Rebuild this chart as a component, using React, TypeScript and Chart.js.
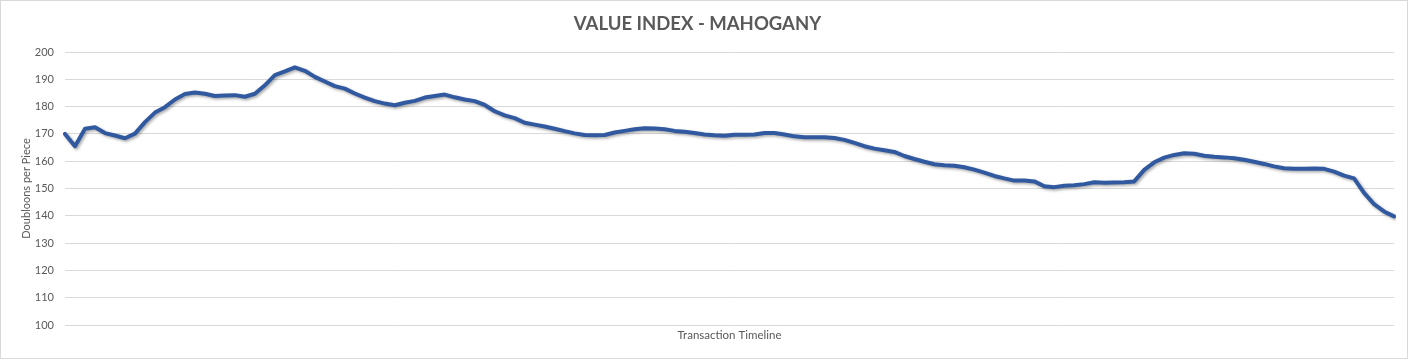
import React, { useEffect, useRef } from "react";
import { Chart, registerables } from "chart.js";

Chart.register(...registerables);

const chartTitle = "VALUE INDEX - MAHOGANY";
const yAxisTitle = "Doubloons per Piece";
const xAxisTitle = "Transaction Timeline";

const yMin = 100;
const yMax = 200;
const yStep = 10;

const mahoganyValues: number[] = [
  170.0, 165.5, 171.9, 172.4, 170.3, 169.4, 168.4, 170.1, 174.3, 177.8,
  179.8, 182.6, 184.6, 185.2, 184.7, 183.9, 184.1, 184.2, 183.6, 184.7,
  187.8, 191.5, 192.9, 194.4, 193.1, 190.9, 189.2, 187.5, 186.6, 184.8,
  183.3, 182.0, 181.1, 180.5, 181.4, 182.1, 183.3, 183.9, 184.4, 183.4,
  182.6, 182.0, 180.6, 178.3, 176.8, 175.8, 174.1, 173.4, 172.7, 171.9,
  171.0, 170.2, 169.6, 169.5, 169.6, 170.5, 171.1, 171.7, 172.1, 172.0,
  171.7, 171.1, 170.8, 170.3, 169.8, 169.5, 169.3, 169.7, 169.7, 169.8,
  170.3, 170.3, 169.8, 169.1, 168.8, 168.8, 168.8, 168.5, 167.8, 166.7,
  165.5, 164.6, 164.0, 163.4, 161.9, 160.8, 159.8, 158.9, 158.5, 158.3,
  157.8, 156.9, 155.8, 154.6, 153.7, 152.9, 152.9, 152.6, 150.8, 150.5,
  151.0, 151.2, 151.6, 152.3, 152.1, 152.2, 152.3, 152.6, 156.8, 159.6,
  161.3, 162.3, 162.9, 162.7, 162.0, 161.6, 161.4, 161.1, 160.5, 159.8,
  159.0, 158.1, 157.4, 157.2, 157.2, 157.3, 157.2, 156.2, 154.7, 153.7,
  148.4, 144.3, 141.6, 139.8,
];

const timelineLabels: string[] = mahoganyValues.map((_, i) => String(i + 1));

const FONT = "Lato, 'Open Sans', sans-serif";
const TEXT_COLOR = "#595959";
const GRID_COLOR = "#d9d9d9";
const LINE_COLOR = "#3059a0";

const shadowPlugin = {
  id: "lineShadow",
  beforeDatasetDraw(chart: any) {
    const ctx = chart.ctx;
    ctx.save();
    ctx.shadowColor = "rgba(0,0,0,0.35)";
    ctx.shadowBlur = 3;
    ctx.shadowOffsetX = 1.5;
    ctx.shadowOffsetY = 1.5;
  },
  afterDatasetDraw(chart: any) {
    chart.ctx.restore();
  },
};

export default function App() {
  const canvasRef = useRef<HTMLCanvasElement | null>(null);

  useEffect(() => {
    document.body.style.margin = "0";
    const canvas = canvasRef.current;
    if (!canvas) return;
    const chart = new Chart(canvas, {
      type: "line",
      data: {
        labels: timelineLabels,
        datasets: [
          {
            label: "Mahogany",
            data: mahoganyValues,
            borderColor: LINE_COLOR,
            backgroundColor: LINE_COLOR,
            borderWidth: 4,
            pointRadius: 0,
            pointHoverRadius: 0,
            tension: 0,
            borderJoinStyle: "round",
            borderCapStyle: "round",
            fill: false,
          },
        ],
      },
      options: {
        animation: false,
        responsive: false,
        maintainAspectRatio: false,
        devicePixelRatio: 1,
        layout: { padding: { top: 0, left: 0, right: 13, bottom: 0 } },
        plugins: {
          legend: { display: false },
          tooltip: { enabled: false },
          title: {
            display: true,
            text: chartTitle,
            color: TEXT_COLOR,
            font: { family: FONT, size: 18.5, weight: "bold", lineHeight: 1.2 },
            padding: { top: 12, bottom: 16.8 },
          },
        },
        scales: {
          x: {
            type: "category",
            offset: false,
            grid: { display: false, drawTicks: false },
            border: { display: false },
            ticks: { display: false },
            title: {
              display: true,
              text: xAxisTitle,
              color: TEXT_COLOR,
              font: { family: FONT, size: 11.5, lineHeight: 1.2 },
              padding: { top: 3, bottom: 16.2 },
            },
            afterFit(scale: any) {
              scale.height = 33;
            },
          },
          y: {
            type: "linear",
            min: yMin,
            max: yMax,
            grid: { color: GRID_COLOR, lineWidth: 1, drawTicks: false },
            border: { display: false },
            ticks: {
              stepSize: yStep,
              color: TEXT_COLOR,
              padding: 11,
              font: { family: FONT, size: 11 },
            },
            title: {
              display: true,
              text: yAxisTitle,
              color: TEXT_COLOR,
              font: { family: FONT, size: 11, lineHeight: 1.2 },
              padding: { top: 18.4, bottom: 0 },
            },
            afterFit(scale: any) {
              scale.width = 64;
            },
          },
        },
      },
      plugins: [shadowPlugin],
    });
    return () => chart.destroy();
  }, []);

  return (
    <div
      style={{
        width: 1408,
        height: 359,
        boxSizing: "border-box",
        border: "1px solid #d9d9d9",
        background: "#ffffff",
      }}
    >
      <canvas ref={canvasRef} width={1406} height={357} style={{ display: "block" }} />
    </div>
  );
}
